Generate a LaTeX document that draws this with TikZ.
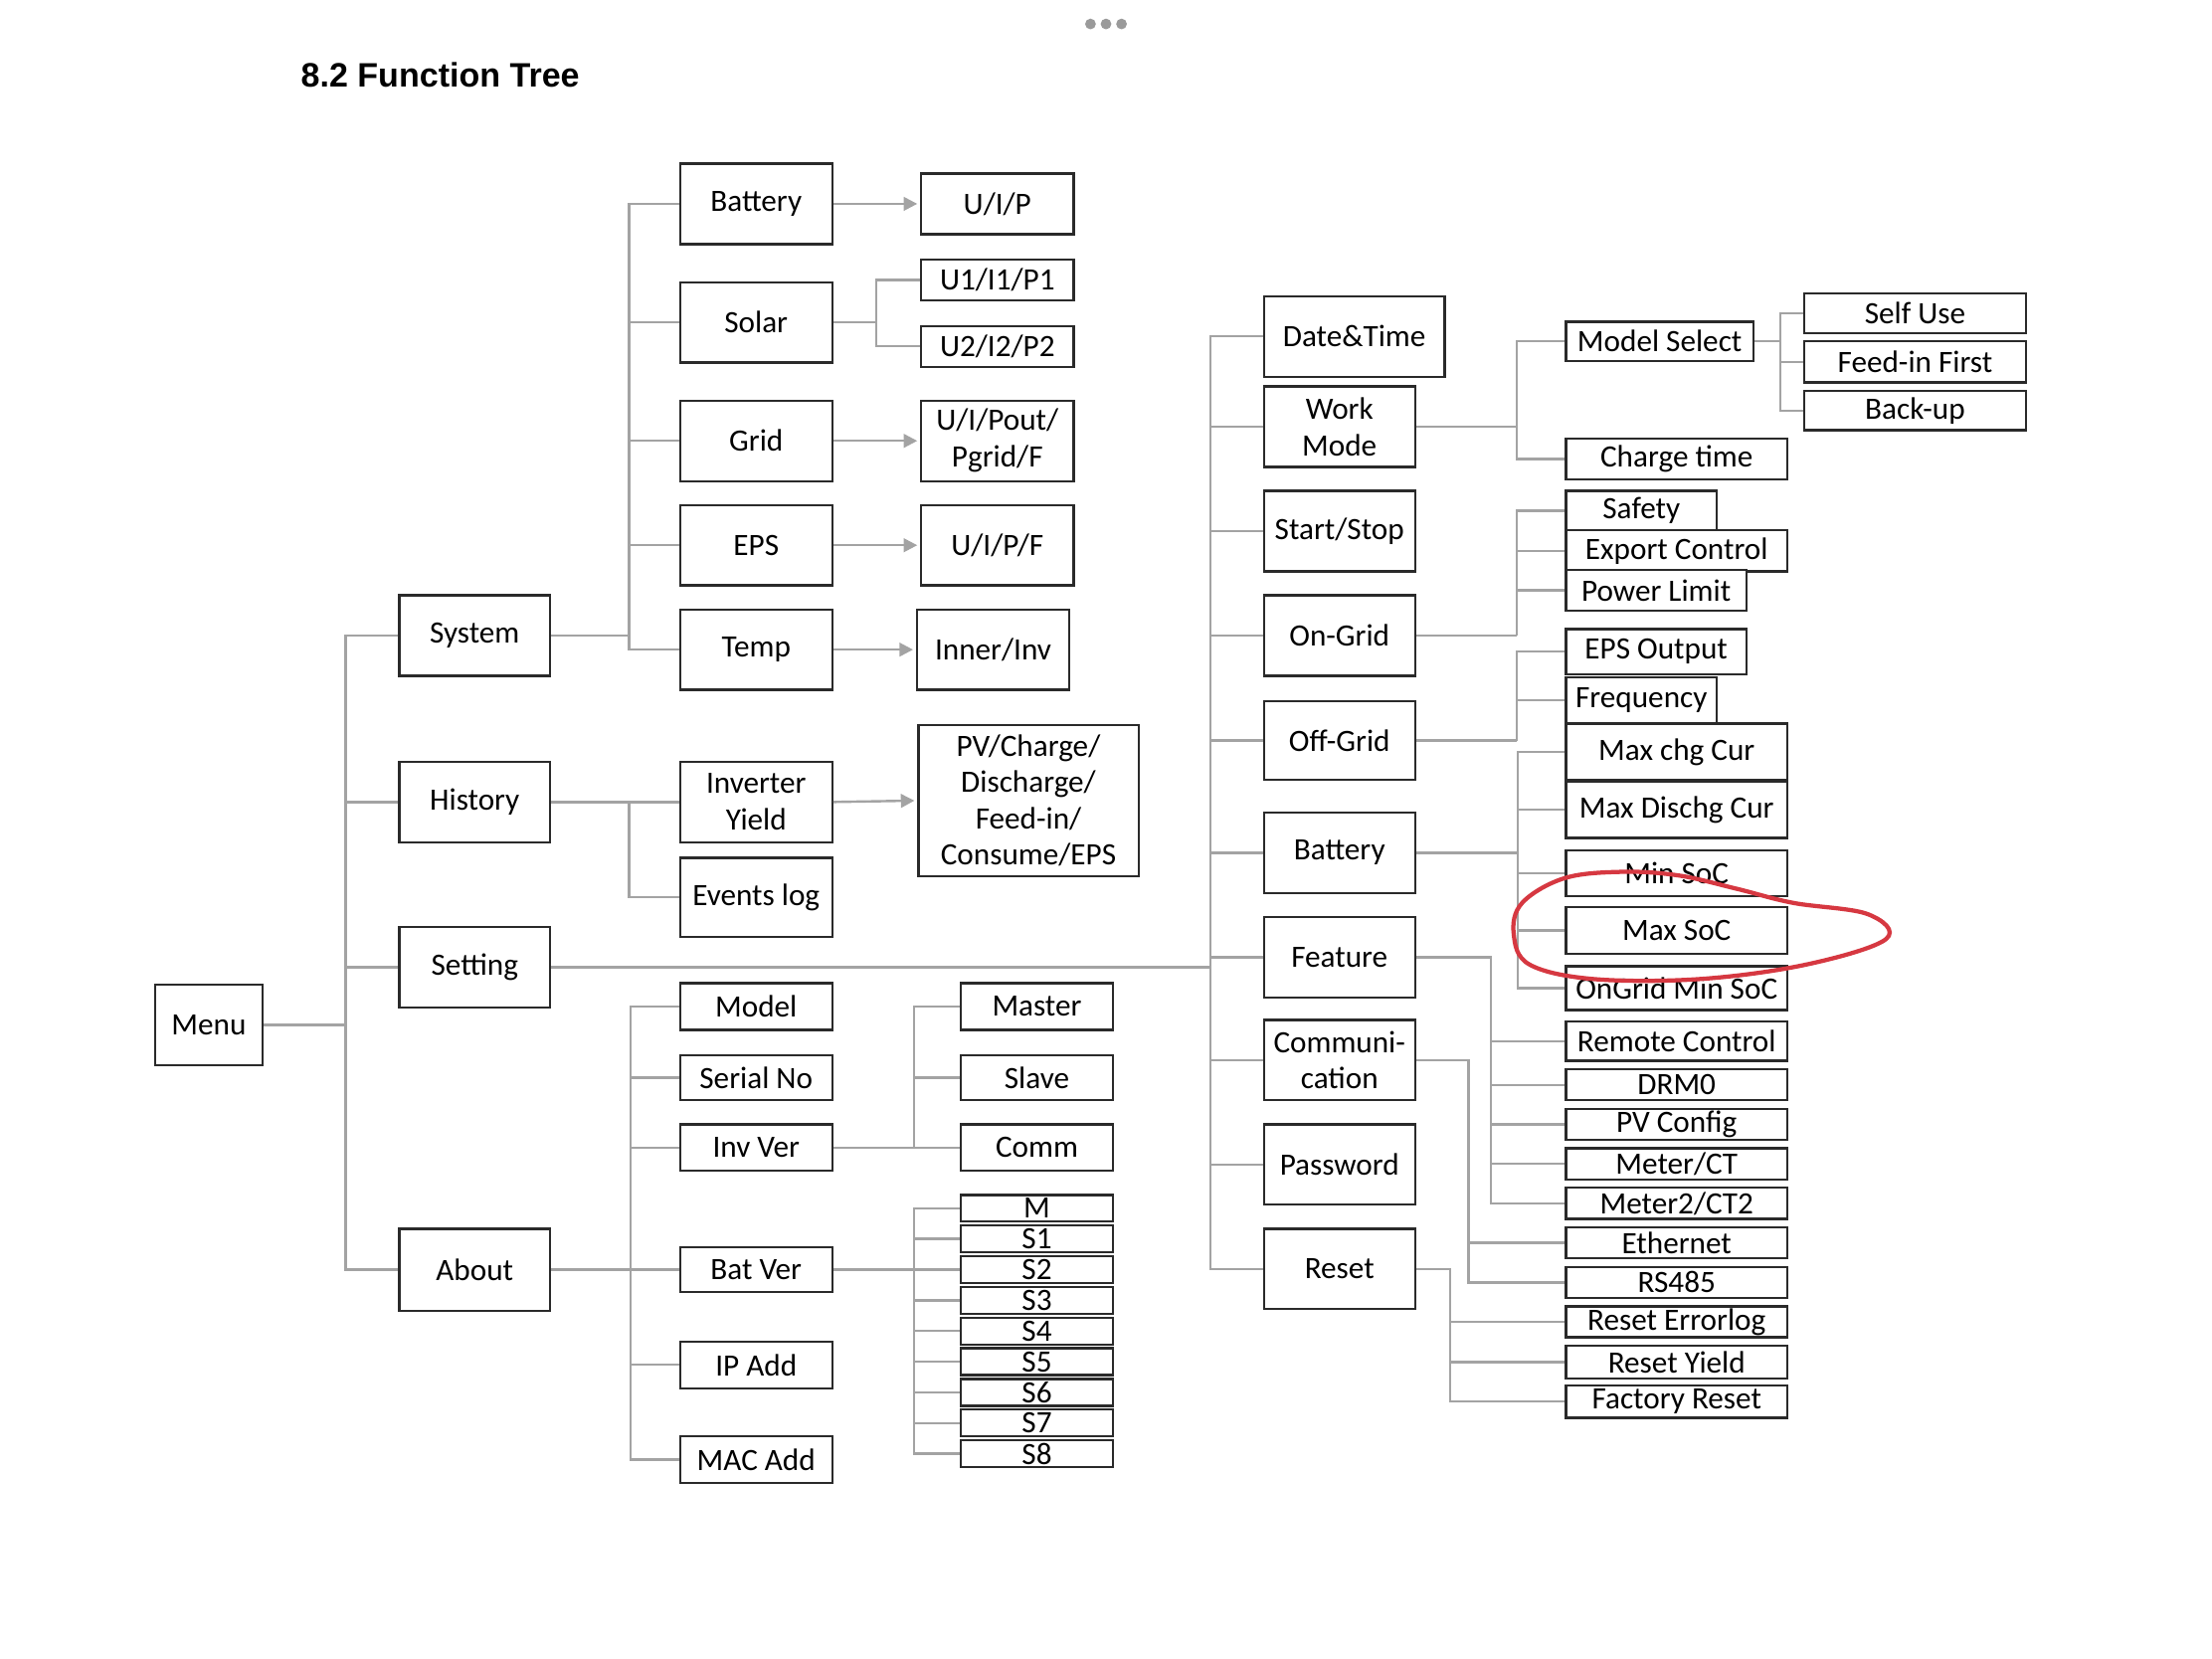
\documentclass[tikz,border=0pt]{standalone}
\usepackage{fontspec}
\setmainfont{Carlito}
\newfontfamily\titlefont{Liberation Sans}
\usetikzlibrary{arrows.meta}
\definecolor{boxc}{HTML}{2A2A2A}
\definecolor{linec}{HTML}{A3A3A3}
\definecolor{redc}{HTML}{D63841}
\definecolor{dotc}{HTML}{9A9A9A}
\newcommand\mkbox[7][]{%
  \pgfmathsetmacro\bxw{(#5-#3)*0.5}%
  \pgfmathsetmacro\bxh{(#6-#4)*0.5}%
  \node[fbox,#1,minimum width=\bxw pt,minimum height=\bxh pt] (#2) at ({(#3+#5)/2},{(#4+#6)/2}) {#7};}
\begin{document}
\begin{tikzpicture}[x=0.5pt,y=-0.5pt,
  fbox/.style={draw=boxc,line width=0.8pt,fill=white,inner sep=0pt,align=center,
    font=\fontsize{11pt}{13pt}\selectfont},
  conn/.style={draw=linec,line width=0.85pt},
  arr/.style={conn,-{Triangle[length=4.8pt,width=4.8pt]},shorten >=1pt},
  ring/.style={draw=redc,line width=1.5pt}]
\useasboundingbox (0,0) rectangle (1568,1176);
\fill[white] (0,0) rectangle (1568,1176);
% header
\fill[dotc] (773,17) circle (1.9pt);
\fill[dotc] (784,17) circle (1.9pt);
\fill[dotc] (795,17) circle (1.9pt);
\node[anchor=base west,inner sep=0pt,font=\titlefont\bfseries\fontsize{12pt}{14pt}\selectfont] (title) at (213,62) {8.2 Function Tree};
% level 0/1
\mkbox{menu}{110}{698}{186}{755}{Menu}
\mkbox{system}{283}{422}{390}{479}{System}
\mkbox{history}{283}{540}{390}{597}{History}
\mkbox{setting}{283}{657}{390}{714}{Setting}
\mkbox{about}{283}{871}{390}{929}{About}
% system
\mkbox{bat1}{482}{116}{590}{173}{Battery}
\mkbox{uip}{653}{123}{761}{166}{U/I/P}
\mkbox{solar}{482}{200}{590}{257}{Solar}
\mkbox{u1}{653}{184}{761}{213}{U1/I1/P1}
\mkbox{u2}{653}{231}{761}{260}{U2/I2/P2}
\mkbox{grid}{482}{284}{590}{341}{Grid}
\mkbox{uipout}{653}{284}{761}{341}{U/I/Pout/\\Pgrid/F}
\mkbox{eps}{482}{358}{590}{415}{EPS}
\mkbox{uipf}{653}{358}{761}{415}{U/I/P/F}
\mkbox{temp}{482}{432}{590}{489}{Temp}
\mkbox{inner}{650}{432}{758}{489}{Inner/Inv}
% history
\mkbox{invy}{482}{540}{590}{597}{Inverter\\Yield}
\mkbox{evlog}{482}{608}{590}{664}{Events log}
\mkbox[font=\fontsize{11pt}{12.8pt}\selectfont]{pv}{651}{514}{807}{621}{PV/Charge/\\Discharge/\\Feed-in/\\Consume/EPS}
% about
\mkbox{model}{482}{697}{590}{730}{Model}
\mkbox{serial}{482}{748}{590}{780}{Serial No}
\mkbox{invver}{482}{797}{590}{830}{Inv Ver}
\mkbox{batver}{482}{884}{590}{916}{Bat Ver}
\mkbox{ipadd}{482}{951}{590}{984}{IP Add}
\mkbox{macadd}{482}{1018}{590}{1051}{MAC Add}
\mkbox{master}{681}{697}{789}{730}{Master}
\mkbox{slave}{681}{748}{789}{780}{Slave}
\mkbox{comm}{681}{797}{789}{830}{Comm}
\mkbox{sM}{681}{847}{789}{866}{M}
\mkbox{s1}{681}{868.75}{789}{887.75}{S1}
\mkbox{s2}{681}{890.5}{789}{909.5}{S2}
\mkbox{s3}{681}{912.25}{789}{931.25}{S3}
\mkbox{s4}{681}{934}{789}{953}{S4}
\mkbox{s5}{681}{955.75}{789}{974.75}{S5}
\mkbox{s6}{681}{977.5}{789}{996.5}{S6}
\mkbox{s7}{681}{999.25}{789}{1018.25}{S7}
\mkbox{s8}{681}{1021}{789}{1040}{S8}
% setting
\mkbox{datetime}{896}{210}{1024}{267}{Date\&Time}
\mkbox{workmode}{896}{274}{1003}{331}{Work\\Mode}
\mkbox{startstop}{896}{348}{1003}{405}{Start/Stop}
\mkbox{ongrid}{896}{422}{1003}{479}{On-Grid}
\mkbox{offgrid}{896}{497}{1003}{553}{Off-Grid}
\mkbox{bat2}{896}{576}{1003}{633}{Battery}
\mkbox{feature}{896}{650}{1003}{707}{Feature}
\mkbox{commun}{896}{723}{1003}{780}{Communi-\\cation}
\mkbox{password}{896}{797}{1003}{854}{Password}
\mkbox{reset}{896}{871}{1003}{928}{Reset}
\mkbox{modelsel}{1110}{228}{1243}{256}{Model Select}
\mkbox{chargetime}{1110}{311}{1267}{340}{Charge time}
\mkbox{selfuse}{1279}{208}{1436}{236}{Self Use}
\mkbox{feedin}{1279}{242}{1436}{271}{Feed-in First}
\mkbox{backup}{1279}{277}{1436}{305}{Back-up}
\mkbox{safety}{1110}{348}{1217}{376}{Safety}
\mkbox{export}{1110}{376}{1267}{405}{Export Control}
\mkbox{powerlim}{1110}{404}{1238}{433}{Power Limit}
\mkbox{epsout}{1110}{446}{1238}{478}{EPS Output}
\mkbox{freq}{1110}{480}{1217}{513}{Frequency}
\mkbox{maxchg}{1110}{513}{1267}{553}{Max chg Cur}
\mkbox{maxdis}{1110}{554}{1267}{594}{Max Dischg Cur}
\mkbox{minsoc}{1110}{603}{1267}{635}{Min SoC}
\mkbox{maxsoc}{1110}{643}{1267}{676}{Max SoC}
\mkbox{ongridmin}{1110}{685}{1267}{716}{OnGrid Min SoC}
\mkbox{remote}{1110}{724}{1267}{752}{Remote Control}
\mkbox{drm}{1110}{758}{1267}{780}{DRM0}
\mkbox{pvconf}{1110}{786}{1267}{808}{PV Config}
\mkbox{meter}{1110}{814}{1267}{836}{Meter/CT}
\mkbox{meter2}{1110}{842}{1267}{864}{Meter2/CT2}
\mkbox{ether}{1110}{870}{1267}{892}{Ethernet}
\mkbox{rs}{1110}{898}{1267}{920}{RS485}
\mkbox{reseterr}{1110}{926}{1267}{948}{Reset Errorlog}
\mkbox{resetyield}{1110}{954}{1267}{977}{Reset Yield}
\mkbox{factory}{1110}{982}{1267}{1005}{Factory Reset}
% trunk coordinates
\coordinate (tM) at (245,0);
\coordinate (tS) at (446,0);
\coordinate (tSo) at (621,0);
\coordinate (tA) at (447,0);
\coordinate (tI) at (648,0);
\coordinate (tR) at (858,0);
\coordinate (tW) at (1075,0);
\coordinate (tMS) at (1262,0);
\coordinate (tB) at (1076,0);
\coordinate (tF) at (1057,0);
\coordinate (tC) at (1041,0);
\coordinate (tRe) at (1028,0);
% menu
\draw[conn] (menu.east) -- (tM |- menu.east);
\draw[conn] (system.west) -| (tM |- about.west) -- (about.west);
\draw[conn] (history.west) -- (tM |- history.west);
\draw[conn] (setting.west) -- (tM |- setting.west);
% system
\draw[conn] (system.east) -- (tS |- system.east);
\draw[conn] (bat1.west) -| (tS |- temp.west) -- (temp.west);
\draw[conn] (solar.west) -- (tS |- solar.west);
\draw[conn] (grid.west) -- (tS |- grid.west);
\draw[conn] (eps.west) -- (tS |- eps.west);
\draw[arr] (bat1.east) -- (uip.west);
\draw[arr] (grid.east) -- (uipout.west);
\draw[arr] (eps.east) -- (uipf.west);
\draw[arr] (temp.east) -- (inner.west);
\draw[conn] (solar.east) -- (tSo |- solar.east);
\draw[conn] (u1.west) -| (tSo |- u2.west) -- (u2.west);
% history
\draw[conn] (history.east) -- (tS |- history.east);
\draw[conn] (invy.west) -| (tS |- evlog.west) -- (evlog.west);
\draw[arr] (invy.east) -- (pv.west);
% about
\draw[conn] (about.east) -- (batver.west);
\draw[conn] (model.west) -| (tA |- macadd.west) -- (macadd.west);
\draw[conn] (serial.west) -- (tA |- serial.west);
\draw[conn] (invver.west) -- (tA |- invver.west);
\draw[conn] (ipadd.west) -- (tA |- ipadd.west);
\draw[conn] (invver.east) -- (comm.west);
\draw[conn] (master.west) -| (tI |- comm.west);
\draw[conn] (slave.west) -- (tI |- slave.west);
\draw[conn] (batver.east) -- (s2.west);
\draw[conn] (sM.west) -| (tI |- s8.west) -- (s8.west);
\foreach \s in {s1,s3,s4,s5,s6,s7} \draw[conn] (\s.west) -- (tI |- \s.west);
% setting
\draw[conn] (setting.east) -- (tR |- setting.east);
\draw[conn] (datetime.west) -| (tR |- reset.west) -- (reset.west);
\foreach \s in {workmode,startstop,ongrid,offgrid,bat2,feature,commun,password} \draw[conn] (\s.west) -- (tR |- \s.west);
\draw[conn] (workmode.east) -- (tW |- workmode.east);
\draw[conn] (modelsel.west) -| (tW |- chargetime.west) -- (chargetime.west);
\draw[conn] (modelsel.east) -- (tMS |- modelsel.east);
\draw[conn] (selfuse.west) -| (tMS |- backup.west) -- (backup.west);
\draw[conn] (feedin.west) -- (tMS |- feedin.west);
\draw[conn] (ongrid.east) -- (tW |- ongrid.east);
\draw[conn] (safety.west) -| (tW |- ongrid.east);
\draw[conn] (export.west) -- (tW |- export.west);
\draw[conn] (powerlim.west) -- (tW |- powerlim.west);
\draw[conn] (offgrid.east) -- (tW |- offgrid.east);
\draw[conn] (epsout.west) -| (tW |- offgrid.east);
\draw[conn] (freq.west) -- (tW |- freq.west);
\draw[conn] (bat2.east) -- (tB |- bat2.east);
\draw[conn] (maxchg.west) -| (tB |- ongridmin.west) -- (ongridmin.west);
\foreach \s in {maxdis,minsoc,maxsoc} \draw[conn] (\s.west) -- (tB |- \s.west);
\draw[conn] (feature.east) -| (tF |- meter2.west) -- (meter2.west);
\foreach \s in {remote,drm,pvconf,meter} \draw[conn] (\s.west) -- (tF |- \s.west);
\draw[conn] (commun.east) -| (tC |- rs.west) -- (rs.west);
\draw[conn] (ether.west) -- (tC |- ether.west);
\draw[conn] (reset.east) -| (tRe |- factory.west) -- (factory.west);
\foreach \s in {reseterr,resetyield} \draw[conn] (\s.west) -- (tRe |- \s.west);
% red hand-drawn ring
\draw[ring] plot[smooth cycle,tension=0.6] coordinates {(1150,618) (1109,622.5) (1079,640) (1073,662) (1084,683.6) (1129.5,694) (1205,694) (1281,683.6) (1337,665.6) (1324,648) (1271,640) (1231,630) (1190,620.6)};
\end{tikzpicture}
\end{document}
